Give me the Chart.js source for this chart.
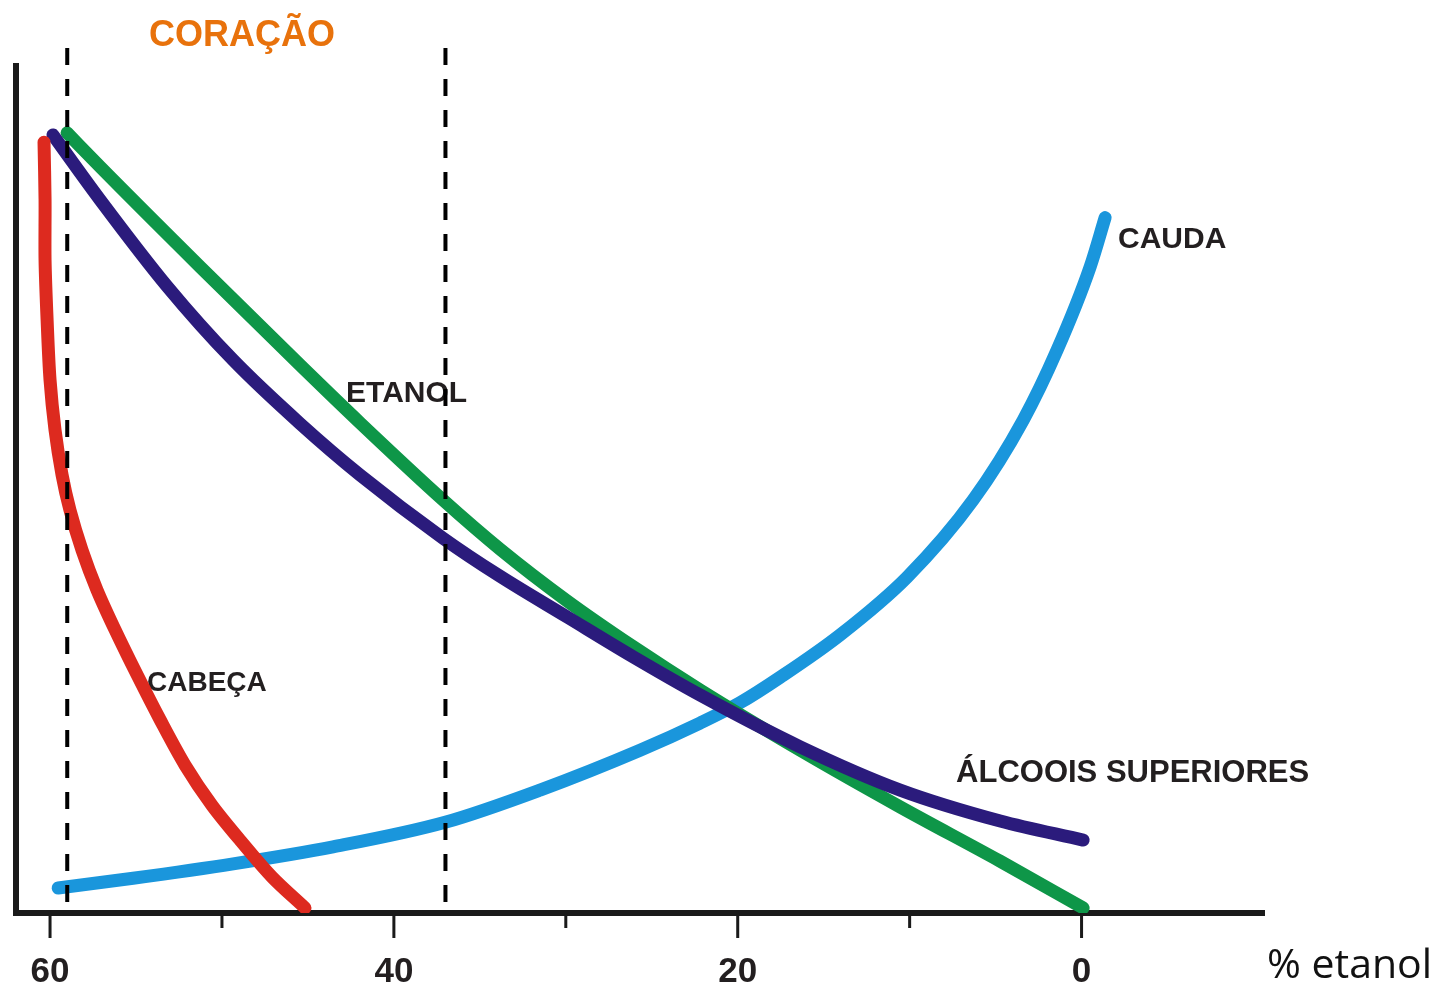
<!DOCTYPE html>
<html>
<head>
<meta charset="utf-8">
<script src="https://cdn.jsdelivr.net/npm/chart.js@4.4.1/dist/chart.umd.min.js"></script>
<style>
  html, body { margin: 0; padding: 0; background: #fff; }
  #wrap { width: 1439px; height: 986px; position: relative; }
</style>
</head>
<body>
<div id="wrap"><canvas id="destilacao"></canvas></div>
<script>
// % etanol (eixo x, decrescente) vs. concentração relativa (eixo y, 0-100)
const cabecaX = [60.35, 60.29, 60.29, 60.17, 60.00, 59.71, 59.30, 58.84, 58.14, 57.27, 56.22, 54.94, 53.60, 52.15, 50.58, 48.95, 47.09, 45.17];
const cabecaY = [90.9, 84.1, 77.0, 69.9, 62.85, 56.96, 51.65, 47.5, 42.8, 38.1, 33.4, 28.1, 22.8, 17.45, 12.7, 8.6, 4.25, 0.6];

const superioresX = [59.83, 57.09, 53.19, 49.35, 45.45, 41.97, 37.14, 33.82, 29.92, 26.08, 22.19, 16.37, 10.55, 4.73, -0.09];
const superioresY = [91.75, 84.1, 73.9, 65.2, 57.7, 51.65, 44.2, 39.7, 34.9, 30.2, 25.7, 19.6, 14.5, 10.85, 8.6];

const etanolX = [59.01, 57.09, 51.27, 45.45, 41.97, 37.14, 33.82, 29.92, 26.08, 22.19, 16.37, 10.55, 4.73, -0.09];
const etanolY = [92.0, 88.0, 76.2, 64.6, 57.8, 48.7, 42.9, 36.8, 31.4, 26.3, 19.2, 12.5, 6.1, 0.6];

const caudaX = [59.53, 55.17, 49.35, 43.54, 37.02, 31.50, 25.68, 22.19, 19.86, 17.53, 14.04, 10.15, 6.31, 3.40, 1.42, -0.50, -1.37];
const caudaY = [2.95, 4.1, 5.8, 7.8, 10.7, 14.5, 19.2, 22.4, 24.8, 27.8, 32.8, 39.6, 48.7, 58.1, 66.4, 76.2, 82.0];

// cortes do coração (linhas tracejadas)
const cortes = [59.0, 37.0];
const majorTicks = [60, 40, 20, 0];
const minorTicks = [50, 30, 10];

function pts(xs, ys) {
    return xs.map((x, i) => ({ x: x, y: ys[i] }));
}

const curve = (data, color, smooth) => ({
    data: data,
    borderColor: color,
    borderWidth: 13,
    borderCapStyle: "round",
    borderJoinStyle: "round",
    pointRadius: 0,
    tension: 0.3,
    cubicInterpolationMode: smooth ? "monotone" : "default",
    fill: false
});

const dashed = (x) => ({
    data: [{ x: x, y: 102 }, { x: x, y: 0 }],
    borderColor: "#000",
    borderWidth: 4,
    borderDash: [17, 14],
    pointRadius: 0,
    clip: false,
    fill: false
});

const DARK = "#231f20";

// eixos, marcas e rótulos desenhados a partir das escalas
const decor = {
    id: "decor",
    beforeDatasetsDraw(chart) {
        const c = chart.ctx, a = chart.chartArea;
        const xs = chart.scales.x, ys = chart.scales.y;
        c.save();
        c.strokeStyle = "#1a1a1a";
        c.lineWidth = 6;
        c.beginPath();
        c.moveTo(a.left, a.top - 2);
        c.lineTo(a.left, a.bottom + 3);
        c.moveTo(a.left - 3, a.bottom);
        c.lineTo(a.right, a.bottom);
        c.stroke();

        c.lineWidth = 3;
        c.beginPath();
        majorTicks.forEach(v => {
            const px = xs.getPixelForValue(v);
            c.moveTo(px, a.bottom); c.lineTo(px, a.bottom + 25);
        });
        minorTicks.forEach(v => {
            const px = xs.getPixelForValue(v);
            c.moveTo(px, a.bottom); c.lineTo(px, a.bottom + 15);
        });
        c.stroke();

        c.fillStyle = DARK;
        c.font = "bold 35px 'Liberation Sans', Arial, sans-serif";
        c.textAlign = "center";
        c.textBaseline = "alphabetic";
        majorTicks.forEach(v => c.fillText(String(v), xs.getPixelForValue(v), 982));

        c.textAlign = "left";
        c.font = "41px 'Open Sans', sans-serif";
        c.fillStyle = "#111";
        c.fillText("% etanol", a.right + 2, 978);

        const label = (txt, x, y, size, color, align) => {
            c.font = "bold " + size + "px 'Liberation Sans', Arial, sans-serif";
            c.fillStyle = color;
            c.textAlign = align || "left";
            c.fillText(txt, xs.getPixelForValue(x), ys.getPixelForValue(y));
        };
        label("CORAÇÃO", 48.83, 102.2, 36, "#e8720c", "center");
        label("ETANOL", 42.78, 60.26, 30, DARK);
        label("CABEÇA", 54.36, 26.18, 28, DARK);
        label("CAUDA", -2.12, 78.4, 30, DARK);
        label("ÁLCOOIS SUPERIORES", 7.30, 15.45, 31, DARK);
        c.restore();
    }
};

new Chart(document.getElementById("destilacao").getContext("2d"), {
    type: "line",
    data: {
        datasets: [
            dashed(cortes[0]),
            dashed(cortes[1]),
            curve(pts(cabecaX, cabecaY), "#dd2a1f", false),
            curve(pts(superioresX, superioresY), "#2b1b7c", true),
            curve(pts(etanolX, etanolY), "#0e9648", true),
            curve(pts(caudaX, caudaY), "#1a96dc", true)
        ]
    },
    options: {
        responsive: true,
        maintainAspectRatio: false,
        animation: false,
        layout: { padding: { left: 16, right: 174, top: 65, bottom: 73 } },
        plugins: { legend: { display: false }, tooltip: { enabled: false } },
        scales: {
            x: { type: "linear", reverse: true, min: -10.67, max: 61.98, display: false },
            y: { type: "linear", min: 0, max: 100, display: false }
        }
    },
    plugins: [decor]
});
</script>
</body>
</html>
